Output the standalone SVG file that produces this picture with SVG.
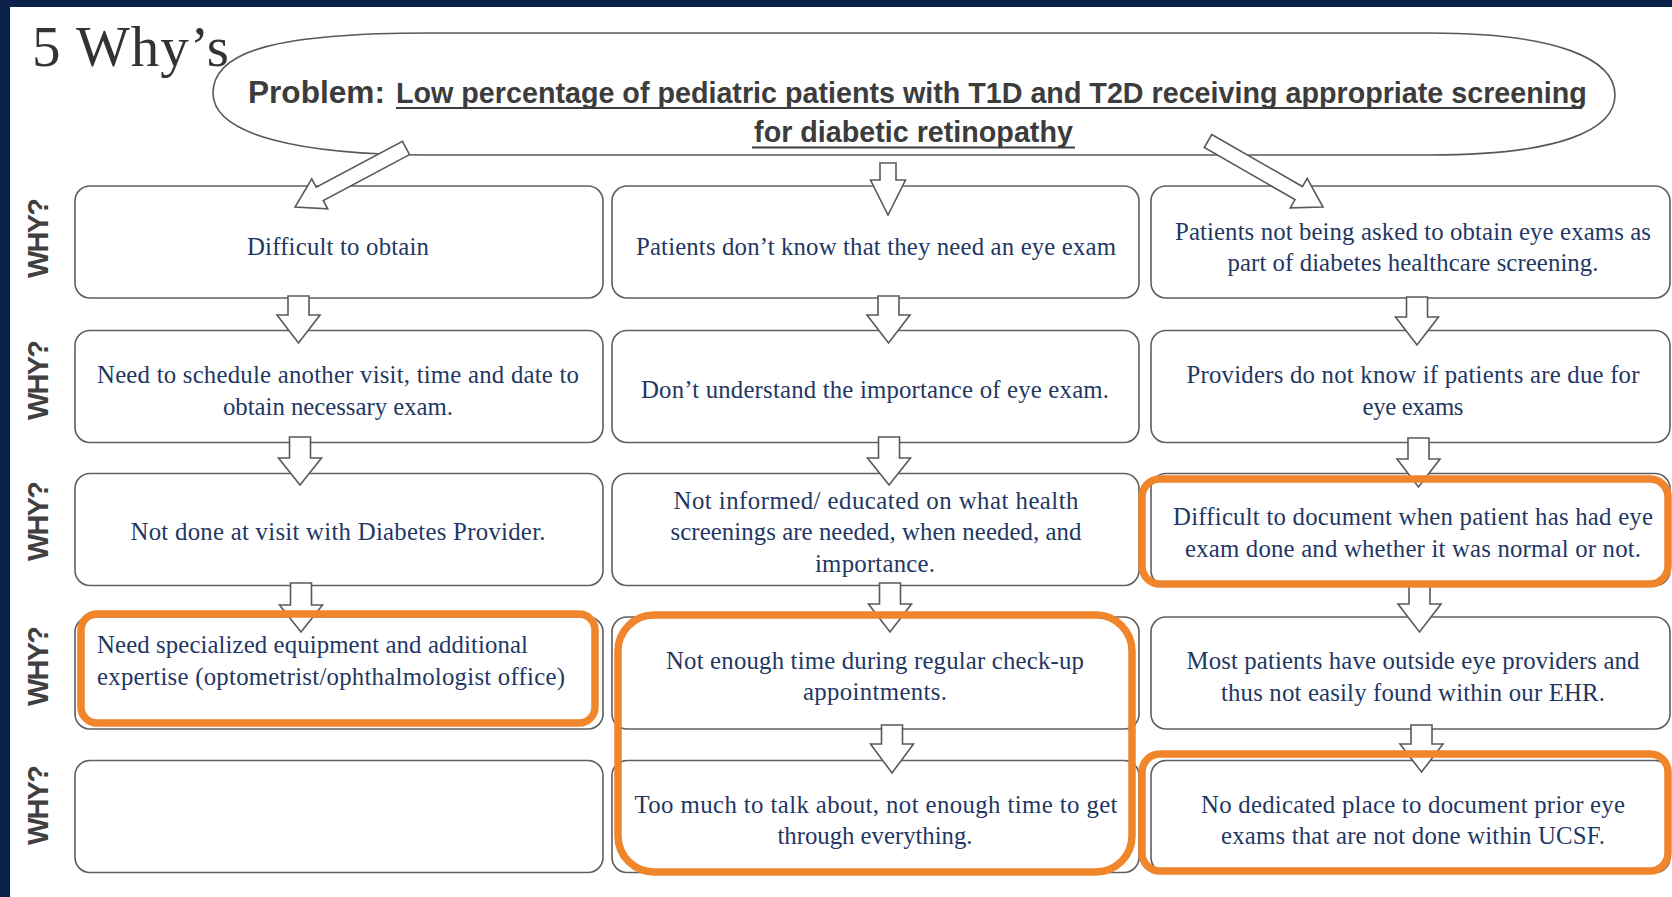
<svg xmlns="http://www.w3.org/2000/svg" width="1672" height="897" viewBox="0 0 1672 897">
  <style>
    .frame { fill: #0a2249; }
    .box { fill: #ffffff; stroke: #5f5f5f; stroke-width: 1.6; }
    .arrow { fill: #ffffff; stroke: #595959; stroke-width: 1.6; stroke-linejoin: miter; }
    .hl { fill: none; stroke: #f0852b; stroke-width: 7.5; }
    .problem-shape { fill: #ffffff; stroke: #595959; stroke-width: 1.6; }
    .t { font-family: "Liberation Serif", "Times New Roman", serif; font-size: 24.8px; fill: #1f3763; text-anchor: middle; }
    .tl { text-anchor: start; }
    .why { font-family: "Liberation Sans", Arial, sans-serif; font-weight: bold; font-size: 29px; fill: #404040; text-anchor: middle; }
    .title { font-family: "Liberation Serif", "Times New Roman", serif; font-size: 57px; fill: #333333; }
    .prob { font-family: "Liberation Sans", Arial, sans-serif; font-weight: bold; font-size: 28.7px; fill: #3c3c3c; }
    .uline { stroke: #3c3c3c; stroke-width: 2; }
  </style>

  <!-- page and frame -->
  <rect x="0" y="0" width="1672" height="897" fill="#ffffff"/>
  <rect class="frame" x="0" y="0" width="1672" height="7"/>
  <rect class="frame" x="0" y="0" width="10" height="897"/>

  <text class="title" x="32" y="66" textLength="197">5 Why’s</text>

  <!-- problem statement -->
  <g id="problem">
    <path class="problem-shape" d="M213,93 C213,50 280,33 430,33 L1430,33 C1560,33 1615,60 1615,95 C1615,130 1560,155 1430,155 L430,155 C300,155 213,135 213,93 Z"/>
    <text class="prob" x="248" y="103"><tspan font-size="31.6">Problem:</tspan><tspan x="396">Low percentage of pediatric patients with T1D and T2D receiving appropriate screening</tspan></text>
    <text class="prob" x="913.5" y="142" text-anchor="middle">for diabetic retinopathy</text>
    <line class="uline" x1="396" y1="108" x2="1582" y2="108"/>
    <line class="uline" x1="752" y1="147.5" x2="1075" y2="147.5"/>
  </g>

  <!-- row labels -->
  <g id="why-labels">
    <text class="why" transform="translate(47.5,238) rotate(-90)" textLength="80">WHY?</text>
    <text class="why" transform="translate(47.5,380) rotate(-90)" textLength="80">WHY?</text>
    <text class="why" transform="translate(47.5,521) rotate(-90)" textLength="80">WHY?</text>
    <text class="why" transform="translate(47.5,666) rotate(-90)" textLength="80">WHY?</text>
    <text class="why" transform="translate(47.5,805) rotate(-90)" textLength="80">WHY?</text>
  </g>

  <!-- row 1 -->
  <g id="node-r1c1">
    <rect class="box" x="75" y="186" width="528" height="112" rx="15"/>
    <text class="t" x="338" y="255" textLength="182">Difficult to obtain</text>
  </g>
  <g id="node-r1c2">
    <rect class="box" x="612" y="186" width="527" height="112" rx="15"/>
    <text class="t" x="876" y="255" textLength="480">Patients don’t know that they need an eye exam</text>
  </g>
  <g id="node-r1c3">
    <rect class="box" x="1151" y="186" width="519" height="112" rx="15"/>
    <text class="t" x="1413" y="240" textLength="476">Patients not being asked to obtain eye exams as</text>
    <text class="t" x="1413" y="271" textLength="371">part of diabetes healthcare screening.</text>
  </g>

  <!-- row 2 -->
  <g id="node-r2c1">
    <rect class="box" x="75" y="330.5" width="528" height="112" rx="15"/>
    <text class="t" x="338" y="383" textLength="482">Need to schedule another visit, time and date to</text>
    <text class="t" x="338" y="415" textLength="230">obtain necessary exam.</text>
  </g>
  <g id="node-r2c2">
    <rect class="box" x="612" y="330.5" width="527" height="112" rx="15"/>
    <text class="t" x="875" y="398" textLength="468">Don’t understand the importance of eye exam.</text>
  </g>
  <g id="node-r2c3">
    <rect class="box" x="1151" y="330.5" width="519" height="112" rx="15"/>
    <text class="t" x="1413" y="383" textLength="453">Providers do not know if patients are due for</text>
    <text class="t" x="1413" y="415" textLength="101">eye exams</text>
  </g>

  <!-- row 3 -->
  <g id="node-r3c1">
    <rect class="box" x="75" y="473.5" width="528" height="112" rx="15"/>
    <text class="t" x="338" y="540" textLength="415">Not done at visit with Diabetes Provider.</text>
  </g>
  <g id="node-r3c2">
    <rect class="box" x="612" y="473.5" width="527" height="112" rx="15"/>
    <text class="t" x="876" y="509" textLength="405">Not informed/ educated on what health</text>
    <text class="t" x="876" y="540" textLength="411">screenings are needed, when needed, and</text>
    <text class="t" x="875" y="572" textLength="120">importance.</text>
  </g>
  <g id="node-r3c3">
    <rect class="box" x="1151" y="473.5" width="519" height="112" rx="15"/>
    <text class="t" x="1413" y="525" textLength="480">Difficult to document when patient has had eye</text>
    <text class="t" x="1413" y="557" textLength="456">exam done and whether it was normal or not.</text>
  </g>

  <!-- row 4 -->
  <g id="node-r4c1">
    <rect class="box" x="75" y="617" width="528" height="112" rx="15"/>
    <text class="t tl" x="97" y="653" textLength="431">Need specialized equipment and additional</text>
    <text class="t tl" x="97" y="685" textLength="468">expertise (optometrist/ophthalmologist office)</text>
  </g>
  <g id="node-r4c2">
    <rect class="box" x="612" y="617" width="527" height="112" rx="15"/>
    <text class="t" x="875" y="669" textLength="418">Not enough time during regular check-up</text>
    <text class="t" x="875" y="700" textLength="144">appointments.</text>
  </g>
  <g id="node-r4c3">
    <rect class="box" x="1151" y="617" width="519" height="112" rx="15"/>
    <text class="t" x="1413" y="669" textLength="453">Most patients have outside eye providers and</text>
    <text class="t" x="1413" y="701" textLength="384">thus not easily found within our EHR.</text>
  </g>

  <!-- row 5 -->
  <g id="node-r5c1">
    <rect class="box" x="75" y="760.5" width="528" height="112" rx="15"/>
  </g>
  <g id="node-r5c2">
    <rect class="box" x="612" y="760.5" width="527" height="112" rx="15"/>
    <text class="t" x="876" y="813" textLength="483">Too much to talk about, not enough time to get</text>
    <text class="t" x="875" y="844" textLength="195">through everything.</text>
  </g>
  <g id="node-r5c3">
    <rect class="box" x="1151" y="760.5" width="519" height="112" rx="15"/>
    <text class="t" x="1413" y="813" textLength="424">No dedicated place to document prior eye</text>
    <text class="t" x="1413" y="844" textLength="384">exams that are not done within UCSF.</text>
  </g>

  <!-- block arrows -->
  <g id="connectors">
    <!-- from the problem statement -->
    <path class="arrow" transform="translate(406,148) rotate(152)" d="M0,-7.5 H97.7 V-17 L125.7,0 L97.7,17 V7.5 H0 Z"/>
    <path class="arrow" d="M880,163 H896 V180 H905.5 L888,215 L870.5,180 H880 Z"/>
    <path class="arrow" transform="translate(1208,141) rotate(29.85)" d="M0,-7.5 H104.6 V-17 L132.6,0 L104.6,17 V7.5 H0 Z"/>

    <!-- row 1 to row 2 -->
    <path class="arrow" d="M288,296 H309 V315 H320 L298.5,343 L277,315 H288 Z"/>
    <path class="arrow" d="M878,296 H899 V315 H910 L888.5,343 L867,315 H878 Z"/>
    <path class="arrow" d="M1406.5,297 H1427.5 V317 H1438.5 L1417,345 L1395.5,317 H1406.5 Z"/>

    <!-- row 2 to row 3 -->
    <path class="arrow" d="M289.5,437 H310.5 V458 H321.5 L300,485 L278.5,458 H289.5 Z"/>
    <path class="arrow" d="M878.5,437 H899.5 V458 H910.5 L889,485 L867.5,458 H878.5 Z"/>
    <path class="arrow" d="M1408,438 H1429 V459 H1440 L1418.5,487 L1397,459 H1408 Z"/>

    <!-- row 3 to row 4 -->
    <path class="arrow" d="M290.5,583 H311.5 V605 H322.5 L301,632 L279.5,605 H290.5 Z"/>
    <path class="arrow" d="M879.5,583 H900.5 V604 H911.5 L890,632 L868.5,604 H879.5 Z"/>
    <path class="arrow" d="M1409,586 H1430 V604 H1441 L1419.5,632 L1398,604 H1409 Z"/>

    <!-- row 4 to row 5 -->
    <path class="arrow" d="M881.5,725 H902.5 V744 H913.5 L892,773 L870.5,744 H881.5 Z"/>
    <path class="arrow" d="M1411,725 H1432 V744 H1443 L1421.5,772 L1400,744 H1411 Z"/>
  </g>

  <!-- emphasis outlines -->
  <g id="highlights">
    <rect class="hl" x="81" y="614" width="514" height="109" rx="16"/>
    <rect class="hl" x="618" y="615" width="514" height="257" rx="36"/>
    <rect class="hl" x="1142" y="479" width="526" height="105" rx="18"/>
    <rect class="hl" x="1142" y="754" width="526" height="117" rx="18"/>
  </g>
</svg>
